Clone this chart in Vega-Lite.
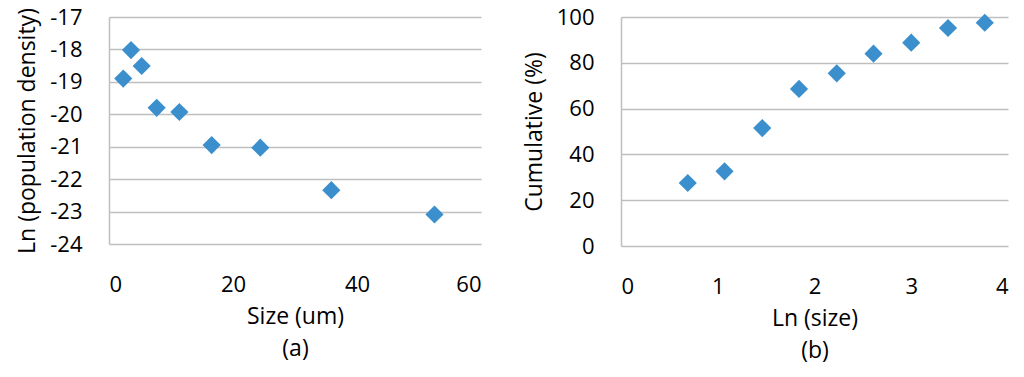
{
  "$schema": "https://vega.github.io/schema/vega-lite/v6.json",
  "background": "white",
  "padding": {"left": 16, "top": 6, "right": 5, "bottom": 5},
  "spacing": 42,
  "config": {
    "font": "Open Sans",
    "view": {"stroke": null},
    "axis": {
      "labelFont": "Open Sans", "titleFont": "Open Sans",
      "labelFontSize": 22, "titleFontSize": 23,
      "labelColor": "#000000", "titleColor": "#000000",
      "titleFontWeight": "normal",
      "ticks": false,
      "gridColor": "#bfbfbf", "gridWidth": 1.5,
      "domainColor": "#bfbfbf", "domainWidth": 1.5
    }
  },
  "datasets": {
    "a": [
      {"size": 2.3, "lnpd": -18.9},
      {"size": 3.55, "lnpd": -18.02},
      {"size": 5.27, "lnpd": -18.51},
      {"size": 7.69, "lnpd": -19.8},
      {"size": 11.35, "lnpd": -19.93},
      {"size": 16.56, "lnpd": -20.95},
      {"size": 24.4, "lnpd": -21.03},
      {"size": 35.86, "lnpd": -22.34},
      {"size": 52.5, "lnpd": -23.09}
    ],
    "b": [
      {"lnsize": 0.69, "cum": 27.5},
      {"lnsize": 1.07, "cum": 32.6},
      {"lnsize": 1.46, "cum": 51.5},
      {"lnsize": 1.84, "cum": 68.6},
      {"lnsize": 2.23, "cum": 75.4},
      {"lnsize": 2.61, "cum": 84.0},
      {"lnsize": 3.0, "cum": 88.8},
      {"lnsize": 3.38, "cum": 95.2},
      {"lnsize": 3.76, "cum": 97.5}
    ]
  },
  "hconcat": [
    {
      "width": 372,
      "height": 227,
      "data": {"name": "a"},
      "mark": {"type": "point", "shape": "diamond", "filled": true, "size": 330, "color": "#3a8fcc", "opacity": 1},
      "encoding": {
        "x": {"field": "size", "type": "quantitative",
              "scale": {"domain": [0, 60], "nice": false},
              "axis": {"values": [0, 20, 40, 60], "grid": false, "domain": false, "labelPadding": 30,
                       "title": ["Size (um)", "(a)"], "titleLineHeight": 32, "titlePadding": 10}},
        "y": {"field": "lnpd", "type": "quantitative",
              "scale": {"domain": [-24, -17], "nice": false, "zero": false},
              "axis": {"values": [-24, -23, -22, -21, -20, -19, -18, -17], "labelPadding": 27,
                       "labelExpr": "'' + datum.value",
                       "title": "Ln (population density)", "titlePadding": 10}}
      }
    },
    {
      "width": 387,
      "height": 229,
      "data": {"name": "b"},
      "mark": {"type": "point", "shape": "diamond", "filled": true, "size": 330, "color": "#3a8fcc", "opacity": 1},
      "encoding": {
        "x": {"field": "lnsize", "type": "quantitative",
              "scale": {"domain": [0, 4], "nice": false},
              "axis": {"values": [0, 1, 2, 3, 4], "grid": false, "domain": false, "labelPadding": 30,
                       "title": ["Ln (size)", "(b)"], "titleLineHeight": 32, "titlePadding": 10}},
        "y": {"field": "cum", "type": "quantitative",
              "scale": {"domain": [0, 100], "nice": false},
              "axis": {"values": [0, 20, 40, 60, 80, 100], "labelPadding": 27,
                       "title": "Cumulative (%)", "titlePadding": 10}}
      }
    }
  ]
}
